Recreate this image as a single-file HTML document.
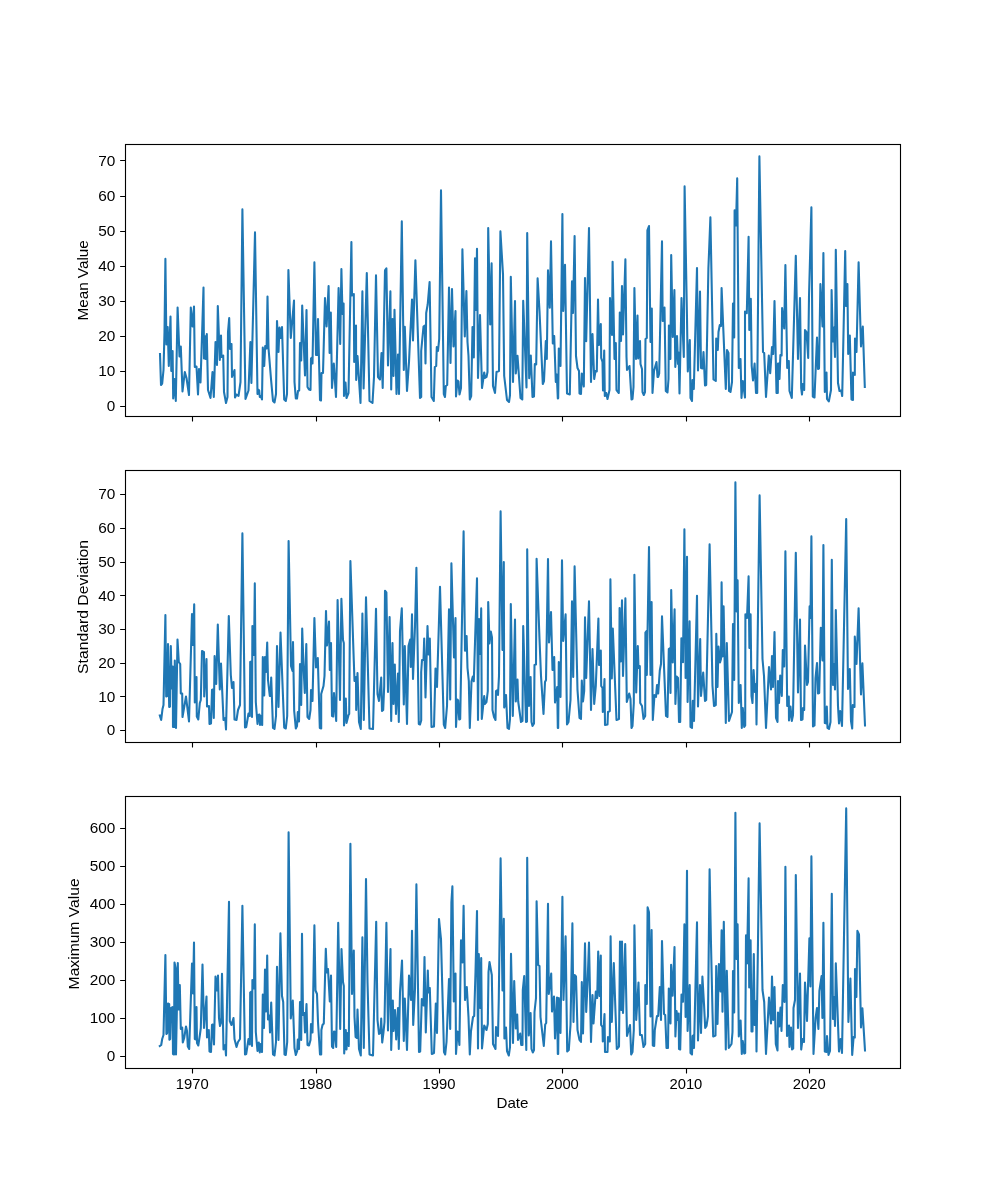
<!DOCTYPE html>
<html><head><meta charset="utf-8"><title>chart</title>
<style>html,body{margin:0;padding:0;background:#fff}svg{display:block;will-change:transform}text{font-family:"Liberation Sans",sans-serif;font-size:14.2px;fill:#000}</style></head>
<body>
<svg width="1000" height="1200" viewBox="0 0 1000 1200">
<rect width="1000" height="1200" fill="#fff"/>
<clipPath id="c0"><rect x="125" y="144.00" width="775" height="271.76"/></clipPath>
<polyline clip-path="url(#c0)" fill="none" stroke="#1f77b4" stroke-width="2.083" stroke-linejoin="round" stroke-linecap="square" points="160.0,354.0 161.0,385.0 162.2,383.5 163.5,370.0 164.5,332.0 165.4,258.9 166.4,344.5 167.7,327.0 168.8,366.0 170.5,316.5 171.3,371.0 172.6,351.0 173.2,398.5 174.5,379.0 175.8,401.0 177.6,307.5 179.5,356.5 180.8,346.5 181.2,357.0 182.5,391.5 184.8,372.0 186.5,378.0 189.0,395.0 190.8,307.5 192.5,326.5 194.0,306.5 194.8,367.0 196.5,366.5 198.0,394.5 199.0,369.0 200.5,382.5 202.0,336.0 203.5,287.6 204.0,358.5 204.8,336.0 205.6,359.0 206.8,334.0 208.0,390.0 210.5,398.0 212.5,372.0 213.8,397.0 215.5,342.0 217.0,365.0 217.8,306.0 219.8,360.0 221.0,335.5 221.5,357.0 223.2,355.5 224.0,392.0 226.0,403.0 227.5,397.0 228.0,332.0 229.2,318.0 230.0,349.0 231.5,344.0 232.0,377.0 234.5,370.0 235.0,397.5 236.5,394.5 238.5,396.0 240.5,382.0 242.4,209.4 245.5,399.0 248.5,390.5 250.4,342.0 251.4,383.0 255.0,232.4 257.5,394.0 258.2,389.5 259.2,390.5 259.8,397.0 260.8,396.0 262.0,399.5 262.8,347.5 264.2,366.0 265.2,346.0 266.6,348.5 267.5,296.5 268.5,348.0 271.0,379.0 273.0,401.0 274.5,402.5 276.0,394.0 277.0,321.0 278.5,352.0 279.5,327.5 280.8,338.0 282.0,327.0 284.2,399.5 285.8,401.0 287.0,394.0 288.4,270.0 290.8,338.0 294.0,300.5 294.5,382.0 295.8,398.5 297.0,398.5 298.0,391.0 299.2,390.5 300.0,343.0 301.2,360.5 302.2,305.5 305.0,375.5 306.5,310.0 307.5,387.0 309.0,389.5 310.5,390.0 311.0,358.5 312.0,357.5 312.5,363.5 314.4,262.4 316.0,355.0 317.2,355.0 318.0,319.0 320.0,400.0 321.0,400.5 321.5,373.0 323.0,373.0 325.0,298.0 326.6,326.5 328.6,286.0 329.6,353.0 330.8,312.5 332.0,388.0 333.8,363.5 336.0,397.0 338.6,288.0 340.2,344.0 341.4,269.0 342.5,314.0 343.6,303.5 344.0,396.0 345.5,382.5 346.5,398.0 348.5,393.0 351.4,242.0 352.0,295.5 353.8,294.0 354.2,362.0 356.0,325.5 356.2,380.0 357.5,356.0 358.5,372.0 360.5,403.0 362.4,291.4 363.6,388.5 366.8,273.0 369.5,401.0 372.5,403.0 374.0,377.0 376.0,275.4 378.0,377.0 380.0,379.5 381.5,353.0 382.7,388.0 385.0,270.4 386.4,268.4 388.0,365.5 390.4,291.4 391.2,389.5 392.5,319.0 393.5,376.0 394.5,309.8 396.5,394.0 398.0,354.5 399.0,394.0 401.8,221.4 403.8,370.0 404.8,326.8 407.0,391.0 409.0,362.0 410.0,340.0 412.0,299.5 413.0,340.5 415.4,260.4 420.0,398.0 421.2,397.0 421.2,351.0 423.5,326.5 424.8,325.5 425.5,363.5 426.2,313.0 427.7,304.5 429.6,282.0 431.5,397.0 433.8,401.0 434.8,367.0 436.2,366.0 436.8,347.0 438.0,351.0 439.2,339.0 441.0,190.4 443.8,394.0 445.0,397.0 445.8,386.0 447.2,385.0 449.0,287.6 450.5,363.0 452.0,289.0 453.5,346.5 455.5,311.0 456.0,396.5 457.5,380.5 458.5,381.5 459.5,394.5 461.0,388.0 462.4,249.4 464.8,336.5 466.4,291.0 467.5,342.0 468.5,356.0 469.8,399.5 471.2,396.0 472.5,327.0 473.8,357.5 475.0,258.4 476.0,310.0 477.0,248.8 478.0,378.0 480.0,315.0 482.0,388.0 484.2,372.5 485.0,378.0 486.5,377.0 487.5,372.0 488.2,228.0 490.2,324.5 491.6,263.4 493.0,386.0 495.0,393.0 496.5,372.0 499.0,371.0 500.4,231.4 503.0,274.4 504.2,376.0 507.0,400.0 509.0,402.0 510.0,395.0 510.8,276.8 513.0,382.0 515.0,301.0 515.8,373.5 517.5,355.8 520.5,398.0 522.3,399.5 523.2,300.8 526.5,387.5 527.2,233.0 529.2,378.2 530.8,355.5 532.5,397.0 534.0,396.5 534.8,364.0 536.2,364.5 537.6,278.4 539.5,311.0 542.8,384.0 544.0,381.0 545.8,341.0 546.8,359.0 548.0,270.4 549.8,307.8 551.0,241.4 552.8,343.5 554.2,336.0 555.8,382.0 556.8,374.5 557.8,398.5 558.2,398.0 558.8,348.5 560.5,366.0 562.4,214.0 563.2,311.0 565.0,264.8 567.0,393.5 569.8,394.5 572.0,281.4 573.0,313.0 574.6,236.0 576.0,356.0 577.5,368.0 579.0,371.0 579.5,393.5 581.0,394.0 581.8,373.5 583.8,386.5 585.0,278.0 586.2,341.2 589.0,228.0 591.0,382.0 592.5,334.0 594.2,379.0 595.5,371.0 596.8,371.5 598.0,299.5 599.0,345.0 600.8,324.0 601.2,358.0 602.5,362.0 603.0,390.5 604.2,350.5 604.8,396.0 606.2,393.0 607.5,399.0 609.5,390.0 610.0,298.0 612.0,335.0 612.6,261.8 614.5,359.0 615.8,343.0 616.5,390.0 618.8,393.0 619.8,312.5 621.0,341.0 622.0,286.0 623.0,334.5 625.4,259.4 626.5,357.0 627.0,370.0 629.5,366.0 631.5,399.5 632.5,399.0 633.5,387.0 634.4,288.0 636.0,359.0 637.5,315.5 638.2,358.5 640.0,341.0 640.5,364.0 642.0,369.0 642.5,392.0 643.8,395.0 645.0,392.0 645.5,339.0 646.8,338.0 647.4,230.4 649.0,226.0 650.5,342.0 651.8,308.5 652.5,393.0 654.0,371.0 656.5,362.0 657.5,377.0 658.2,377.0 659.2,373.5 662.0,241.4 662.7,321.0 664.5,307.5 665.8,391.0 667.5,392.5 668.5,379.0 668.9,325.5 670.4,359.0 671.2,255.0 672.8,337.0 674.4,290.0 675.3,367.0 677.0,336.0 678.0,364.0 678.6,352.5 679.5,393.5 681.5,298.0 683.8,357.0 684.6,186.4 687.0,318.5 687.8,371.5 689.8,340.0 690.5,398.0 692.0,401.0 692.5,380.0 693.8,389.0 697.0,268.0 698.0,370.5 700.0,291.6 701.0,368.0 702.5,368.5 703.5,352.0 705.0,385.5 706.2,385.0 708.4,268.4 710.4,217.4 713.5,379.5 715.8,381.0 716.2,338.5 717.8,350.0 718.5,332.0 719.8,325.0 721.0,326.0 721.6,288.0 725.8,389.0 727.0,350.0 728.5,353.0 729.0,391.0 730.5,392.0 732.0,382.0 733.0,303.6 734.2,337.5 734.6,210.4 736.0,225.4 737.2,178.4 738.8,368.0 740.5,359.0 741.5,398.0 742.8,381.0 745.0,397.5 745.0,311.5 746.8,313.2 748.6,236.8 749.3,330.0 750.8,298.8 751.7,366.0 753.0,380.5 754.6,363.5 756.0,393.0 757.2,393.0 759.4,156.4 763.0,352.0 764.2,353.0 766.0,397.0 768.8,355.5 770.2,373.2 772.0,347.0 773.2,354.0 774.5,301.0 776.5,393.0 777.8,393.0 778.0,363.5 779.0,363.5 779.5,379.0 780.4,355.0 781.6,355.5 782.1,308.0 784.2,328.5 785.4,265.0 787.2,368.0 788.8,361.0 789.5,391.0 791.8,398.0 795.8,255.8 798.0,359.0 800.0,298.0 801.2,388.0 802.0,394.5 802.8,384.0 804.2,390.0 805.0,330.0 806.5,332.0 808.2,358.0 809.0,296.5 811.4,207.4 812.8,396.5 814.5,397.5 817.0,337.5 818.0,369.0 819.0,368.5 820.4,284.0 822.5,326.5 823.4,253.0 824.8,392.0 826.5,372.5 827.0,399.0 828.8,401.5 831.0,390.0 831.6,290.0 832.8,341.5 834.0,327.5 835.0,357.0 835.8,249.8 838.0,383.0 839.5,391.0 841.2,390.5 842.2,396.0 845.2,251.0 846.0,306.0 847.4,284.0 848.2,354.0 849.8,335.5 851.5,399.5 853.0,400.0 853.0,372.5 854.8,375.0 855.0,338.5 856.5,352.0 858.6,262.4 861.0,346.5 862.8,326.5 864.8,387.0"/>
<path d="M192.5 416.5v5M316.5 416.5v5M439.5 416.5v5M562.5 416.5v5M686.5 416.5v5M809.5 416.5v5M125 406.5h-4.86M125 371.5h-4.86M125 336.5h-4.86M125 301.5h-4.86M125 266.5h-4.86M125 231.5h-4.86M125 196.5h-4.86M125 160.5h-4.86" stroke="#000" stroke-width="1.111" fill="none"/>
<rect x="125.5" y="144.5" width="775" height="272.0" fill="none" stroke="#000" stroke-width="1.111"/>
<text x="115.3" y="411.3" text-anchor="end" textLength="8.5" lengthAdjust="spacingAndGlyphs">0</text>
<text x="115.3" y="376.2" text-anchor="end" textLength="17.1" lengthAdjust="spacingAndGlyphs">10</text>
<text x="115.3" y="341.1" text-anchor="end" textLength="17.1" lengthAdjust="spacingAndGlyphs">20</text>
<text x="115.3" y="306.0" text-anchor="end" textLength="17.1" lengthAdjust="spacingAndGlyphs">30</text>
<text x="115.3" y="270.9" text-anchor="end" textLength="17.1" lengthAdjust="spacingAndGlyphs">40</text>
<text x="115.3" y="235.8" text-anchor="end" textLength="17.1" lengthAdjust="spacingAndGlyphs">50</text>
<text x="115.3" y="200.7" text-anchor="end" textLength="17.1" lengthAdjust="spacingAndGlyphs">60</text>
<text x="115.3" y="165.6" text-anchor="end" textLength="17.1" lengthAdjust="spacingAndGlyphs">70</text>
<text transform="translate(88.0 280.4) rotate(-90)" text-anchor="middle" textLength="80.4" lengthAdjust="spacingAndGlyphs">Mean Value</text>
<clipPath id="c1"><rect x="125" y="470.12" width="775" height="271.76"/></clipPath>
<polyline clip-path="url(#c1)" fill="none" stroke="#1f77b4" stroke-width="2.083" stroke-linejoin="round" stroke-linecap="square" points="159.8,715.5 161.2,720.0 162.5,709.0 163.5,705.0 165.4,615.0 166.2,696.5 167.2,696.0 168.0,644.0 169.2,707.0 170.0,706.5 170.8,646.0 171.8,688.5 172.8,666.5 173.0,727.0 174.2,727.0 174.8,660.5 176.0,728.0 177.5,639.5 178.8,662.0 180.2,664.0 180.8,693.5 182.2,693.5 182.5,717.0 186.0,696.5 189.0,721.5 192.0,614.0 192.8,645.0 194.2,604.4 194.8,702.5 196.5,677.0 196.8,716.5 198.3,719.5 199.8,703.0 200.8,700.0 202.0,651.0 204.0,652.2 204.2,696.5 206.5,659.0 207.0,706.5 209.0,706.0 209.5,724.0 211.0,723.5 212.0,690.0 212.8,689.5 213.8,718.0 214.6,656.0 216.2,684.0 217.8,624.5 219.8,689.5 221.0,663.5 223.5,720.0 225.2,718.0 226.0,729.5 228.8,616.0 230.8,675.0 232.0,688.0 233.5,682.0 234.5,719.5 236.5,720.0 238.0,710.0 240.0,705.0 242.4,533.4 245.0,727.5 246.2,727.0 248.5,713.5 249.8,716.0 250.2,662.0 251.5,661.5 252.0,717.0 252.4,626.0 254.0,655.0 254.8,583.4 255.8,702.0 257.5,724.0 258.5,715.0 259.5,714.5 260.0,725.0 261.0,716.0 262.2,725.0 262.8,657.0 264.2,695.5 265.0,657.0 266.0,672.0 267.2,642.5 268.0,680.0 269.8,696.0 270.6,696.0 271.2,677.5 273.0,728.0 274.5,729.0 276.0,716.0 277.0,646.0 278.5,707.0 280.5,632.5 284.2,727.5 285.8,728.5 287.2,716.0 288.6,541.0 291.0,666.0 292.5,671.0 293.0,642.0 294.2,711.0 295.8,728.5 297.0,726.0 297.8,712.0 299.0,721.5 300.0,664.0 301.2,705.0 302.2,628.5 303.5,666.0 304.8,693.0 306.3,644.0 307.5,717.0 309.2,719.0 310.5,710.0 311.0,690.0 312.5,701.0 314.4,618.0 316.0,667.5 317.8,658.0 319.8,728.0 321.2,728.5 321.2,694.0 323.5,686.0 324.5,676.0 326.0,611.0 327.0,645.5 329.0,621.5 329.8,670.0 331.0,643.0 332.0,716.0 333.2,716.5 334.0,693.0 336.2,721.0 337.6,600.0 340.0,700.0 341.4,598.8 343.0,640.0 343.8,643.0 344.0,725.5 345.8,698.5 346.5,723.0 348.5,715.0 349.2,714.0 350.4,561.0 353.8,661.0 354.5,681.0 356.0,677.0 356.2,710.0 357.5,673.0 359.0,722.0 360.8,729.0 362.4,613.6 363.8,720.0 366.0,597.4 369.5,728.5 373.0,729.0 376.0,608.8 377.5,694.0 379.0,701.0 381.2,677.5 382.0,711.0 383.2,710.0 384.2,686.0 385.0,590.8 386.4,592.4 388.0,692.0 389.6,617.0 391.2,721.0 392.5,643.0 393.5,704.0 394.8,664.5 396.0,714.0 398.0,673.5 398.8,722.0 400.0,631.0 401.8,608.4 403.8,704.5 404.8,646.0 407.0,724.0 408.5,646.0 410.2,639.5 410.8,667.0 412.0,614.4 413.0,679.0 415.0,626.0 416.4,567.8 418.8,724.0 420.0,724.5 421.2,720.5 421.2,672.0 422.0,660.0 423.5,660.0 424.2,638.5 425.5,697.5 427.5,626.0 428.5,654.5 429.8,638.5 431.5,727.0 434.0,726.5 435.5,668.5 437.0,687.0 440.0,586.8 443.8,724.5 445.2,728.0 447.0,706.0 449.0,609.4 450.2,699.5 451.4,563.4 454.0,657.5 455.5,618.0 456.0,727.0 457.5,699.5 458.2,700.5 459.2,719.5 460.2,719.0 463.6,531.4 465.0,650.8 466.6,636.0 467.5,668.0 468.8,681.0 469.8,728.0 471.5,681.5 472.8,676.5 473.8,681.2 477.0,578.4 478.0,720.0 479.0,619.0 480.2,654.0 481.2,608.4 481.8,719.0 484.2,696.0 484.8,704.0 486.5,702.0 487.8,691.0 488.2,602.0 489.5,643.5 490.8,631.5 492.0,637.5 492.5,710.0 494.0,717.0 495.5,720.0 496.0,691.0 497.5,690.0 498.0,695.0 499.0,676.0 500.6,511.4 502.5,650.0 503.8,562.0 504.2,707.5 506.0,695.0 507.5,728.0 509.0,729.0 510.0,719.0 510.8,604.0 512.8,716.0 515.0,619.6 515.8,701.5 517.5,679.5 518.2,701.5 521.0,722.0 522.5,721.0 523.2,626.0 526.0,722.0 527.0,721.5 527.2,549.4 529.0,706.0 530.6,677.0 531.5,722.0 532.5,726.0 534.0,723.5 534.5,665.0 536.0,664.5 536.6,558.8 539.5,639.0 541.0,676.0 543.5,714.0 545.0,682.0 546.0,680.0 548.0,559.0 549.0,642.5 551.0,612.0 552.5,670.0 554.2,657.0 555.0,702.5 557.2,687.0 557.8,728.0 558.2,728.0 558.8,662.0 560.5,697.0 562.0,560.4 563.2,641.0 565.6,614.4 567.0,724.5 568.5,722.0 570.5,700.0 572.0,601.4 573.2,677.0 574.6,566.4 577.5,690.0 579.5,718.0 581.0,719.0 581.8,680.5 583.0,701.5 584.2,691.0 585.0,617.4 586.2,678.0 589.0,601.4 591.0,710.0 592.5,649.0 594.2,704.0 595.8,686.0 598.4,618.6 599.0,665.0 600.8,650.5 601.2,686.0 602.5,688.0 602.8,712.0 604.5,679.0 605.0,725.0 607.5,724.5 608.0,712.0 609.8,711.0 610.4,579.4 611.8,678.5 612.8,628.5 616.5,720.0 619.0,719.0 619.6,608.0 620.8,661.5 622.0,600.4 623.0,676.0 625.4,598.4 626.8,702.0 629.2,693.5 630.5,699.0 631.5,728.0 632.5,726.0 633.8,703.0 634.4,574.8 636.2,692.5 637.8,646.0 638.5,668.0 639.8,666.0 640.2,703.0 642.0,706.0 643.5,719.0 645.2,716.0 645.4,632.5 646.5,631.0 646.8,675.0 649.0,547.0 650.5,675.0 651.6,602.0 652.8,720.0 654.5,695.0 656.0,697.0 657.0,685.0 658.2,693.5 659.8,670.5 661.0,664.0 662.0,616.4 666.0,716.0 667.5,717.0 668.8,649.0 669.8,648.2 670.5,693.0 671.2,590.0 672.8,662.5 674.6,609.4 675.4,704.0 676.6,676.5 678.0,678.0 679.0,722.0 680.2,722.0 681.4,638.2 683.0,662.2 684.4,529.4 685.6,678.0 687.0,556.8 687.6,702.0 689.6,621.4 690.5,727.0 692.0,728.0 692.8,700.8 694.0,721.0 697.0,595.8 698.0,706.5 700.2,639.0 701.0,696.0 703.2,672.5 705.0,701.0 706.2,700.0 709.6,544.4 712.5,686.0 714.0,706.0 715.8,705.0 716.3,633.8 717.5,687.0 718.5,646.5 720.0,662.5 721.0,659.0 721.6,582.4 722.5,656.5 723.6,606.4 725.8,723.0 726.8,643.0 729.0,721.0 732.0,712.0 733.0,624.0 734.2,680.0 735.4,482.4 736.6,611.4 737.6,580.4 738.8,703.0 740.6,685.0 741.8,728.0 742.8,708.0 744.2,727.0 745.2,725.5 745.4,614.4 747.0,618.0 748.6,576.4 749.4,648.0 750.6,614.4 751.5,696.0 752.5,703.0 753.6,670.0 754.8,692.0 756.0,684.0 756.5,724.5 759.6,495.4 762.5,659.0 764.0,676.0 766.0,728.0 769.0,667.0 771.0,689.5 772.0,656.0 773.0,687.0 774.5,632.0 776.0,718.0 777.5,722.0 778.0,681.0 779.0,703.0 780.2,675.5 781.8,696.0 782.8,650.0 784.2,666.5 785.4,551.4 787.2,706.0 788.8,696.5 789.0,720.5 790.5,706.5 791.8,721.0 793.0,715.0 795.8,552.8 798.0,692.5 800.0,619.5 801.0,720.0 802.5,719.5 803.0,708.0 804.2,710.0 805.0,645.5 807.0,685.0 808.0,682.0 809.6,606.4 810.5,618.0 811.4,536.4 813.0,726.5 814.5,725.5 815.5,678.0 817.0,663.0 818.0,693.5 819.2,693.0 820.8,627.8 822.5,660.5 823.4,545.0 824.8,723.0 826.5,723.5 826.8,706.5 827.5,728.0 829.0,729.0 830.5,722.0 831.8,559.8 833.0,685.0 834.0,664.0 835.0,689.5 835.8,610.0 838.0,706.0 839.0,723.5 840.2,711.0 842.0,726.0 846.2,519.0 848.0,689.0 849.8,669.0 851.0,721.0 852.2,728.5 852.8,705.0 854.5,707.0 854.8,636.5 856.5,664.0 858.6,608.4 861.0,694.4 862.4,663.4 865.0,725.4"/>
<path d="M192.5 742.5v5M316.5 742.5v5M439.5 742.5v5M562.5 742.5v5M686.5 742.5v5M809.5 742.5v5M125 730.5h-4.86M125 696.5h-4.86M125 663.5h-4.86M125 629.5h-4.86M125 595.5h-4.86M125 562.5h-4.86M125 528.5h-4.86M125 494.5h-4.86" stroke="#000" stroke-width="1.111" fill="none"/>
<rect x="125.5" y="470.5" width="775" height="272.0" fill="none" stroke="#000" stroke-width="1.111"/>
<text x="115.3" y="735.4" text-anchor="end" textLength="8.5" lengthAdjust="spacingAndGlyphs">0</text>
<text x="115.3" y="701.6" text-anchor="end" textLength="17.1" lengthAdjust="spacingAndGlyphs">10</text>
<text x="115.3" y="667.9" text-anchor="end" textLength="17.1" lengthAdjust="spacingAndGlyphs">20</text>
<text x="115.3" y="634.2" text-anchor="end" textLength="17.1" lengthAdjust="spacingAndGlyphs">30</text>
<text x="115.3" y="600.5" text-anchor="end" textLength="17.1" lengthAdjust="spacingAndGlyphs">40</text>
<text x="115.3" y="566.8" text-anchor="end" textLength="17.1" lengthAdjust="spacingAndGlyphs">50</text>
<text x="115.3" y="533.1" text-anchor="end" textLength="17.1" lengthAdjust="spacingAndGlyphs">60</text>
<text x="115.3" y="499.4" text-anchor="end" textLength="17.1" lengthAdjust="spacingAndGlyphs">70</text>
<text transform="translate(88.0 607.0) rotate(-90)" text-anchor="middle" textLength="134.0" lengthAdjust="spacingAndGlyphs">Standard Deviation</text>
<clipPath id="c2"><rect x="125" y="796.24" width="775" height="271.76"/></clipPath>
<polyline clip-path="url(#c2)" fill="none" stroke="#1f77b4" stroke-width="2.083" stroke-linejoin="round" stroke-linecap="square" points="159.8,1046.0 161.2,1045.0 162.2,1039.0 163.5,1035.0 165.4,955.0 166.4,1034.0 167.2,1033.0 168.0,1003.5 169.2,1004.2 169.4,1039.8 170.2,1039.0 171.0,1008.2 172.6,1007.0 173.0,1054.0 174.0,1054.5 174.5,962.5 175.6,968.0 176.0,1054.5 177.8,963.0 178.6,1009.5 179.8,985.0 180.8,1029.0 182.2,1027.5 182.8,1042.5 184.2,1038.0 186.0,1026.5 187.0,1031.0 187.8,1046.5 189.2,1049.0 192.0,963.5 193.0,993.5 194.0,942.6 194.8,1039.0 196.0,1039.5 196.5,1007.0 197.0,1043.0 198.3,1045.5 200.0,1034.0 200.8,1028.0 202.5,964.5 204.0,1028.0 206.5,996.5 207.0,1037.5 208.8,1030.0 209.5,1051.5 211.0,1052.0 212.0,1025.0 212.8,1024.5 214.0,1044.5 215.5,976.5 216.8,990.5 218.0,975.5 219.0,1018.0 220.0,1026.0 221.2,1022.0 222.0,973.8 223.5,1049.5 225.2,1045.0 226.0,1055.5 229.0,901.8 229.8,1021.0 231.5,1025.0 233.5,1018.0 234.5,1039.0 236.5,1047.0 238.0,1042.0 240.0,1039.0 242.4,905.8 245.0,1054.5 246.2,1054.0 248.5,1039.0 249.8,1044.5 250.2,992.5 251.5,991.5 252.0,1046.0 252.4,980.0 254.0,988.5 254.8,924.4 255.8,1032.0 257.5,1051.0 258.8,1042.5 259.8,1052.5 260.8,1044.0 262.0,1052.0 262.8,994.5 264.0,1028.0 265.0,969.5 266.0,1011.5 267.2,955.5 268.0,1019.5 269.4,1015.5 270.0,1032.5 271.2,1002.5 273.0,1054.5 274.5,1055.5 276.0,1042.0 277.0,966.8 278.5,1040.0 280.4,933.4 282.0,996.0 283.2,1002.0 284.5,1054.5 285.8,1055.0 287.2,1042.0 288.6,832.4 290.8,1018.5 292.8,1000.5 294.5,1048.0 295.8,1055.0 297.2,1051.0 297.8,1039.5 299.0,1049.0 300.0,1002.0 301.2,1040.0 302.0,933.8 303.0,1015.0 304.2,1013.0 305.0,1032.5 306.5,1004.0 307.5,1045.0 309.0,1045.5 310.5,1040.0 311.0,1024.0 312.5,1032.5 314.4,925.4 315.5,990.5 317.0,994.0 318.0,1022.0 320.0,1054.5 321.2,1054.5 321.4,1030.0 322.5,1025.0 323.8,1023.5 325.8,948.8 326.8,972.5 328.0,969.0 329.8,1001.5 331.0,975.5 332.0,1046.5 333.2,1048.0 334.0,1031.5 335.0,1032.0 336.2,1047.0 338.2,922.8 340.2,1029.0 341.5,949.0 343.0,982.0 343.8,986.0 344.2,1053.5 345.8,1030.0 346.5,1049.5 347.2,1033.0 348.8,1046.0 350.4,843.8 352.0,994.0 353.8,950.5 354.5,1017.0 355.6,1037.0 356.8,1038.0 357.5,1009.5 359.0,1049.0 360.8,1055.5 362.4,937.4 363.8,1048.0 366.0,879.0 367.5,982.0 369.5,1054.5 373.0,1055.5 376.2,921.8 377.5,1020.0 379.0,1034.0 380.5,1033.0 381.2,1018.5 382.2,1042.5 383.5,1032.0 384.5,1022.0 386.4,922.8 388.0,1030.5 390.5,949.0 391.2,1050.0 392.8,1000.5 393.5,1031.0 395.0,1010.0 396.2,1039.5 398.0,1008.0 398.8,1049.0 400.0,992.0 402.0,960.5 403.8,1041.0 404.8,998.5 407.0,1050.0 409.0,975.5 411.0,1000.0 412.0,930.8 413.2,1025.0 415.0,989.0 416.4,884.4 419.0,1052.0 420.2,1051.5 421.8,999.0 423.5,1005.5 424.5,957.0 425.8,1032.5 427.8,970.5 428.5,992.5 429.8,988.0 431.8,1054.0 434.0,1053.0 435.8,1003.5 437.0,1033.0 439.0,919.0 441.0,939.4 444.0,1052.0 445.2,1054.5 446.5,1042.0 449.0,979.0 450.2,1029.0 451.4,902.4 452.4,886.4 453.8,1001.5 455.5,973.5 456.0,1054.0 457.5,1031.5 458.2,1032.0 459.4,1045.0 460.2,992.0 461.0,940.4 462.5,962.5 463.6,905.8 465.0,1000.0 466.8,987.0 468.5,1017.0 469.8,1054.5 471.0,1031.0 473.0,1017.0 474.2,1016.0 475.5,972.0 477.0,911.0 478.0,1048.5 478.8,954.0 480.2,1008.0 481.2,958.0 482.0,1048.5 484.2,1025.5 486.5,1030.0 487.8,1024.0 488.5,972.0 489.5,962.0 491.8,975.0 493.0,1044.0 495.5,1049.0 496.0,1027.0 498.0,1036.0 498.8,998.0 500.6,858.4 502.5,990.5 503.8,918.8 504.4,1038.5 506.0,1027.5 507.0,1051.0 508.8,1055.5 510.0,1047.0 511.0,953.8 513.0,1043.0 514.2,981.0 515.8,1028.5 517.2,1014.5 518.0,1040.0 520.2,1033.5 521.2,1045.0 522.5,1045.0 522.8,990.0 524.2,976.0 526.3,1050.0 527.2,857.8 528.8,1035.5 530.6,1013.0 531.5,1049.0 532.8,1052.5 534.0,1050.0 534.5,1012.0 536.0,998.0 536.6,901.4 538.2,965.0 539.5,966.0 540.5,1017.0 543.8,1046.0 545.2,1024.5 546.2,1023.0 548.0,903.8 548.8,994.0 551.2,973.5 552.0,1011.5 554.0,996.5 555.0,1038.5 557.0,997.5 557.8,1054.0 558.2,1054.0 558.8,998.0 560.5,1033.0 562.4,896.8 563.5,1000.0 565.6,936.4 567.2,1051.5 568.8,1050.0 570.5,1025.0 572.4,923.4 573.5,1022.0 574.6,975.0 576.0,976.5 577.5,1030.0 579.5,1040.0 581.0,1042.0 581.8,982.0 583.0,1033.5 585.0,943.4 586.2,1012.0 587.5,985.0 589.0,942.6 591.0,1042.0 592.5,995.0 593.5,1023.5 595.8,991.5 597.2,998.0 598.2,951.6 599.5,996.0 600.8,955.6 601.1,1025.0 602.5,1027.0 602.8,1041.5 604.5,1014.0 605.0,1052.0 607.5,1052.0 608.0,1037.0 609.8,1041.5 610.6,936.4 611.8,1022.0 613.8,963.0 616.8,1049.0 619.0,1046.5 620.0,941.6 621.2,1010.0 622.0,941.6 623.0,1013.0 625.2,944.0 627.0,1036.0 630.0,1025.0 631.2,1054.5 632.5,1052.0 633.8,1030.0 634.4,925.4 636.2,1020.0 638.5,982.5 640.0,1035.0 641.8,1035.0 643.5,1047.0 645.2,1044.0 645.3,985.0 646.8,1004.0 647.6,907.4 649.0,912.4 650.5,1016.5 651.6,930.0 652.8,1045.5 654.2,1046.0 654.8,1030.0 657.0,1016.0 658.2,1016.0 659.8,987.0 661.0,1020.0 662.0,941.0 664.0,1014.0 665.2,1015.0 666.5,1048.0 668.0,1048.0 668.8,988.5 670.5,1023.5 671.1,964.8 672.6,995.8 674.5,947.0 675.4,1036.5 676.6,1011.0 677.6,1020.0 678.7,1013.5 679.0,1049.0 680.2,1049.5 681.5,994.5 683.0,1001.7 684.4,924.4 685.6,1017.0 687.0,870.8 687.6,1031.0 689.7,985.0 690.5,1053.0 692.0,1054.5 692.6,1036.0 693.8,1035.0 694.0,1048.0 697.0,922.4 698.0,1040.5 700.0,985.0 701.0,1033.0 702.4,976.5 704.0,1004.0 705.2,1028.0 706.5,1026.0 708.0,1016.0 709.6,869.4 711.0,944.0 712.5,1012.0 713.2,1036.5 715.5,1035.5 716.2,966.0 717.5,1024.0 718.9,964.0 720.5,991.5 721.6,930.4 722.5,1011.8 723.8,921.8 725.8,1049.5 726.8,970.7 728.8,1048.0 731.5,1044.0 732.5,1032.0 733.0,971.0 734.2,1012.5 735.4,812.8 736.5,959.0 737.6,924.4 738.8,1036.5 740.6,1020.5 741.8,1054.0 742.8,1041.0 744.2,1053.5 745.2,1053.0 746.0,935.4 747.0,963.5 748.6,878.4 749.2,987.5 750.6,940.4 751.5,1031.5 752.5,1031.5 753.8,954.0 754.6,1025.0 756.0,1001.0 756.5,1051.5 759.6,823.4 762.5,990.0 764.2,1002.0 766.0,1054.0 769.0,997.5 771.0,1023.5 772.0,976.5 773.2,1020.0 774.5,987.0 775.8,1044.0 777.5,1050.5 778.0,1012.5 779.2,1026.5 780.5,1007.5 781.5,1031.0 782.8,985.0 784.5,1002.0 785.4,866.8 787.0,1036.0 789.0,1025.5 789.5,1047.0 791.0,1027.5 792.0,1049.5 793.2,1048.5 793.5,1008.0 795.0,1000.0 795.8,875.0 798.0,1028.0 800.0,973.5 801.2,1049.5 802.5,1039.0 804.0,1042.0 805.0,982.5 807.0,1021.0 809.4,938.4 810.4,986.5 811.4,856.4 813.5,1054.0 815.6,1018.0 817.0,1008.0 818.4,1029.0 819.4,991.0 821.6,976.0 822.4,1018.0 823.4,922.8 824.8,1051.5 826.5,1052.0 827.0,1036.0 828.5,1055.0 830.0,1051.0 831.8,893.8 833.0,1019.0 834.0,997.0 835.0,1026.0 835.8,963.4 839.0,1051.5 840.6,1039.0 842.0,1053.0 846.2,808.4 848.4,1022.0 850.4,978.6 852.2,1055.0 853.6,1037.0 854.8,1037.5 855.0,969.0 856.4,997.0 857.4,930.8 859.0,934.4 861.0,1027.4 862.4,1008.4 865.0,1050.4"/>
<path d="M192.5 1068.5v5M316.5 1068.5v5M439.5 1068.5v5M562.5 1068.5v5M686.5 1068.5v5M809.5 1068.5v5M125 1056.5h-4.86M125 1018.5h-4.86M125 980.5h-4.86M125 942.5h-4.86M125 904.5h-4.86M125 866.5h-4.86M125 828.5h-4.86" stroke="#000" stroke-width="1.111" fill="none"/>
<rect x="125.5" y="796.5" width="775" height="272.0" fill="none" stroke="#000" stroke-width="1.111"/>
<text x="115.3" y="1061.2" text-anchor="end" textLength="8.5" lengthAdjust="spacingAndGlyphs">0</text>
<text x="115.3" y="1023.1" text-anchor="end" textLength="25.6" lengthAdjust="spacingAndGlyphs">100</text>
<text x="115.3" y="985.0" text-anchor="end" textLength="25.6" lengthAdjust="spacingAndGlyphs">200</text>
<text x="115.3" y="947.0" text-anchor="end" textLength="25.6" lengthAdjust="spacingAndGlyphs">300</text>
<text x="115.3" y="908.9" text-anchor="end" textLength="25.6" lengthAdjust="spacingAndGlyphs">400</text>
<text x="115.3" y="870.8" text-anchor="end" textLength="25.6" lengthAdjust="spacingAndGlyphs">500</text>
<text x="115.3" y="832.8" text-anchor="end" textLength="25.6" lengthAdjust="spacingAndGlyphs">600</text>
<text transform="translate(79.2 933.9) rotate(-90)" text-anchor="middle" textLength="111.0" lengthAdjust="spacingAndGlyphs">Maximum Value</text>
<text x="192.2" y="1088.9" text-anchor="middle" textLength="32.9" lengthAdjust="spacingAndGlyphs">1970</text>
<text x="315.6" y="1088.9" text-anchor="middle" textLength="32.9" lengthAdjust="spacingAndGlyphs">1980</text>
<text x="439.0" y="1088.9" text-anchor="middle" textLength="32.9" lengthAdjust="spacingAndGlyphs">1990</text>
<text x="562.4" y="1088.9" text-anchor="middle" textLength="32.9" lengthAdjust="spacingAndGlyphs">2000</text>
<text x="685.9" y="1088.9" text-anchor="middle" textLength="32.9" lengthAdjust="spacingAndGlyphs">2010</text>
<text x="809.3" y="1088.9" text-anchor="middle" textLength="32.9" lengthAdjust="spacingAndGlyphs">2020</text>
<text x="512.5" y="1107.5" text-anchor="middle" textLength="32.0" lengthAdjust="spacingAndGlyphs">Date</text>
</svg>
</body></html>
